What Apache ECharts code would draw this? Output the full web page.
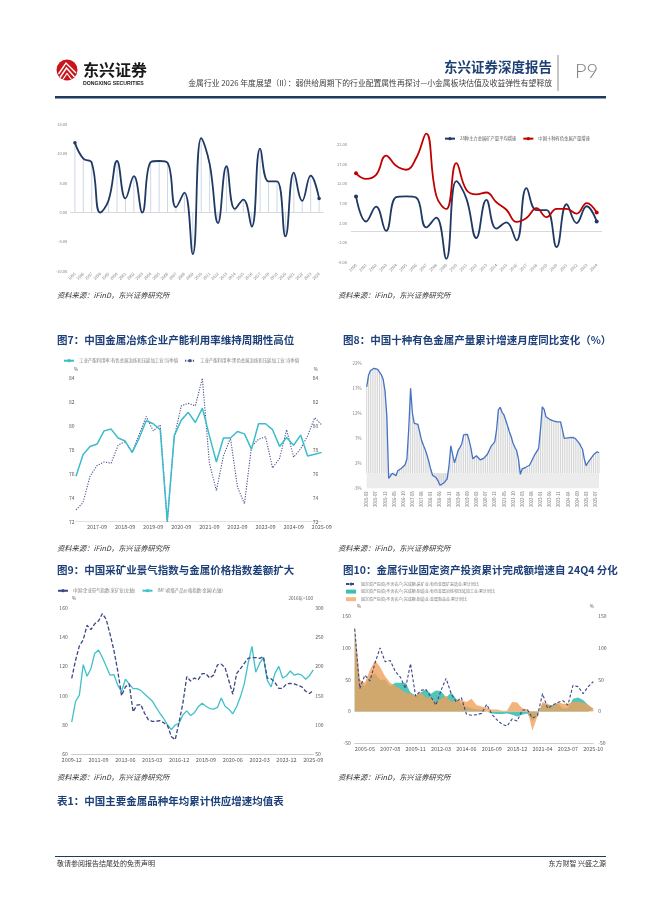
<!DOCTYPE html>
<html><head><meta charset="utf-8">
<script src="https://cdn.jsdelivr.net/npm/echarts/dist/echarts.min.js"></script>
<style>html,body{margin:0;padding:0;background:#fff;}#c{width:662px;height:898px;}</style>
</head><body><div id="c"></div>
<script>
// ---------- DATA ----------
const yearsA = ['1995','1996','1997','1998','1999','2000','2001','2002','2003','2004','2005','2006','2007','2008','2009','2010','2011','2012','2013','2014','2015','2016','2017','2018','2019','2020','2021','2022','2023','2024'];
const mineGrowth = [11.9,9.2,8.5,0.0,2.1,8.8,2.4,6.2,0.0,8.6,8.8,8.5,0.9,3.4,-7.1,12.7,8.3,-1.8,7.9,0.6,2.2,-2.4,10.9,5.3,5.3,-4.1,6.8,2.0,6.3,2.4];
const yearsB = yearsA.slice(5);
const mineGrowthB = mineGrowth.slice(5);
const chinaTenGrowth = [14.7,13.3,14.3,19.2,16.6,15.6,18.6,24.8,9.0,5.6,17.3,10.5,9.3,9.8,7.3,5.4,2.3,3.3,5.8,3.5,5.6,5.6,4.4,7.1,4.7];

const nonferrousUtil = [75.8,77.6,78.3,78.5,79.6,79.75,79.0,78.75,77.8,79.0,80.45,80.2,79.7,72.0,79.2,80.5,81.15,80.3,81.5,79.2,77.0,79.0,79.0,79.55,79.35,78.05,80.2,80.2,79.7,78.3,79.05,78.4,79.25,77.5,77.65,77.8];
const ferrousUtil = [73.0,73.6,75.8,76.7,77.0,76.9,78.4,78.7,77.8,79.3,80.8,79.6,80.1,72.0,79.1,81.7,81.9,81.7,84.0,76.9,74.6,77.5,79.0,74.9,73.5,78.3,78.9,79.1,76.5,77.3,79.7,77.4,78.1,79.2,80.7,80.1];

const tenMetalsCum = [17.3,19.6,20.5,20.8,21.0,21.0,20.8,20.4,19.7,18.8,
 16.5,11.5,-1.0,-0.8,0.0,0.3,-0.5,0.5,0.7,1.0,
 1.3,1.7,2.9,9.0,17.0,12.0,10.0,9.7,9.8,8.2,
 6.6,5.6,4.7,3.6,2.3,0.8,-0.4,-0.7,-0.9,-1.5,
 -2.4,-2.6,-2.0,-1.7,-1.1,1.5,5.5,3.7,2.1,3.3,
 4.6,5.2,5.9,7.7,8.1,7.8,6.6,5.0,2.9,3.3,
 3.5,3.2,2.7,3.1,3.0,3.4,3.8,4.6,5.4,5.7,
 6.3,8.7,12.7,13.2,12.2,11.7,10.6,9.5,8.3,7.3,
 6.0,5.2,4.5,2.8,-0.2,0.9,1.3,1.2,1.0,1.6,
 2.3,3.1,3.8,4.4,5.0,8.7,13.3,12.8,11.3,11.0,
 10.8,10.6,10.5,10.5,10.3,10.1,10.3,8.7,7.0,6.8,
 7.1,7.0,7.2,7.5,7.0,6.6,6.1,6.0,4.8,2.8,
 1.5,2.2,2.7,3.2,3.7,4.1,4.3,4.1];

const miningProsperity = [111.8,124,134,138,148,145,149,151,156,152,
 142,131,117,100,106,108,89,93.5,94,88,
 83.5,82.5,82.5,83,81.5,79.5,72,70,82,95,
 113,110,112,111,115,115,112,114,121,121.5,
 119,110,101,115,118.5,122,125.5,126,126,125.5,
 126.5,112,111.5,109,105,105,108,108.4,108,107,
 106,103,101.5,103.5];
const metalPriceIdx = [105,140,151,203,183,196,222,228,215,200,
 185,186,168,157,178,170,162,162,159,153,
 147,141,130,120,111,100,92,100,103,117,
 124,116,121,131,137,132,128,127,130,146,
 132,127,119,131,148,170,205,234,190,205,
 215,176,165,188,200,180,184,192,185,187,
 185,178,184,194];

const catsF = ['2004-06','2004-11','2005-05','2005-10','2006-04','2006-09','2007-03','2007-08','2008-02','2008-07','2008-12','2009-06','2009-11','2010-05','2010-10','2011-04','2011-09','2012-03','2012-08','2013-02','2013-07','2013-12','2014-06','2014-11','2015-05','2015-10','2016-04','2016-09','2017-03','2017-08','2018-02','2018-07','2018-12','2019-06','2019-11','2020-05','2020-10','2021-04','2021-09','2022-03','2022-08','2023-02','2023-07','2023-12','2024-06','2024-11','2025-05','2025-10'];
const labelsF = ['2005-05','2007-08','2009-11','2012-03','2014-06','2016-09','2018-12','2021-04','2023-07','2025-10'];
const faiMining = [130,36,57,48,76,100,78,80,63,54,36,75,24,33,35,23,10,33,52,28,15,22,-4,-6,-5,-3,11,-4,-13,-20,-23,-12,-15,2,3,-10,-7,28,5,10,14,17,10,41,39,28,39,47];
const faiSmelting = [120,45,40,55,60,50,50,40,45,45,45,30,25,30,35,28,33,32,22,30,20,12,8,5,3,3,0,-3,-4,-4,-3,-5,-8,-5,-3,-15,-5,12,10,10,12,5,5,20,22,18,10,3];
const faiProducts = [135,50,45,65,80,70,55,45,40,35,30,28,25,30,22,22,15,20,25,15,18,18,15,20,10,8,6,3,3,1,1,15,14,5,3,-30,-8,15,12,8,15,12,12,15,15,14,10,5];

// period label helpers (category tick labels only)
function periodRange(y0, m0, y1, m1, step) {
  const out = []; let y = y0, m = m0;
  while (y < y1 || (y === y1 && m <= m1)) {
    out.push(y + '-' + String(m).padStart(2, '0'));
    m += step; if (m > 12) { m -= 12; y++; }
  }
  return out;
}
const quartersC = periodRange(2016, 12, 2025, 9, 3);
const monthsD = periodRange(2015, 2, 2025, 9, 1);
const quartersE = periodRange(2009, 12, 2025, 9, 3);

// names
const nB1 = '28种主力金属矿产量平均增速';
const nB2 = '中国十种有色金属产量增速';
const nC1 = '工业产能利用率:有色金属冶炼和压延加工业:当季值';
const nC2 = '工业产能利用率:黑色金属冶炼和压延加工业:当季值';
const nE1 = '中国:企业景气指数:采矿业(左轴)';
const nE2 = 'IMF:初级产品价格指数:金属(右轴)';
const nF1 = '固定资产投资(不含农户)完成额:采矿业:有色金属矿采选业:累计同比';
const nF2 = '固定资产投资(不含农户)完成额:制造业:有色金属冶炼和压延加工业:累计同比';
const nF3 = '固定资产投资(不含农户)完成额:制造业:金属制品业:累计同比';

// ---------- CHART ----------
const F = "'Noto Sans CJK SC','Noto Sans',sans-serif";
const LBL = '#595959';
const chart = echarts.init(document.getElementById('c'), null, {renderer: 'canvas'});

function endDots(arr, size) {
  return arr.map((v, i) => ({value: v, symbolSize: (i === 0 || i === arr.length - 1) ? size : 0}));
}
function T(x, y, text, o) {
  return {type: 'text', x: x, y: y, z: 10, style: Object.assign({text: text, fill: '#333', fontSize: 7, fontFamily: F, align: 'left', verticalAlign: 'middle'}, o || {})};
}
const noLine = {show: false}, noTick = {show: false}, noSplit = {show: false};
const gridBase = {containLabel: false, outerBoundsMode: 'none'};

const graphic = [
  // header
  {type: 'circle', shape: {cx: 67, cy: 70, r: 10.5}, style: {fill: '#c8161d'}},
  {type: 'polyline', shape: {points: [[58.5, 74], [66, 63], [76, 73]]}, style: {stroke: '#fff', lineWidth: 1.4, fill: null}},
  {type: 'polyline', shape: {points: [[60, 77.5], [66.5, 68], [74.5, 77]]}, style: {stroke: '#fff', lineWidth: 1.4, fill: null}},
  {type: 'polyline', shape: {points: [[62.5, 80], [67, 73.5], [71.5, 79.5]]}, style: {stroke: '#fff', lineWidth: 1.2, fill: null}},
  T(83, 70, '东兴证券', {fontSize: 16, fontWeight: 'bold', fill: '#1a1a1a'}),
  T(83, 83.5, 'DONGXING SECURITIES', {fontSize: 5.2, fontWeight: 'bold', fill: '#1a1a1a', fontFamily: "'Liberation Sans',sans-serif"}),
  T(552, 67, '东兴证券深度报告', {fontSize: 13.5, fontWeight: 'bold', fill: '#1d3f74', align: 'right'}),
  T(552, 83.5, '金属行业 2026 年度展望（II）：弱供给周期下的行业配置属性再探讨—小金属板块估值及收益弹性有望释放', {fontSize: 7.8, fill: '#404040', align: 'right'}),
  {type: 'line', shape: {x1: 558, y1: 55, x2: 558, y2: 91}, style: {stroke: '#8c8c8c', lineWidth: 1}},
  T(575, 72, 'P9', {fontSize: 20, fill: '#7f7f7f', fontFamily: "'Lato','Noto Sans',sans-serif", fontWeight: 300}),
  {type: 'rect', shape: {x: 55, y: 96, width: 551, height: 2.5}, style: {fill: '#1f3a5f'}},
  // sources
  T(57, 295, '资料来源：iFinD，东兴证券研究所', {fontSize: 7.3, fontStyle: 'italic'}),
  T(338, 295, '资料来源：iFinD，东兴证券研究所', {fontSize: 7.3, fontStyle: 'italic'}),
  T(57, 548, '资料来源：iFinD，东兴证券研究所', {fontSize: 7.3, fontStyle: 'italic'}),
  T(338, 548, '资料来源：iFinD，东兴证券研究所', {fontSize: 7.3, fontStyle: 'italic'}),
  T(57, 777, '资料来源：iFinD，东兴证券研究所', {fontSize: 7.3, fontStyle: 'italic'}),
  T(338, 777, '资料来源：iFinD，东兴证券研究所', {fontSize: 7.3, fontStyle: 'italic'}),
  // titles
  T(57, 340, '图7：中国金属冶炼企业产能利用率维持周期性高位', {fontSize: 10.5, fontWeight: 'bold', fill: '#1d4079'}),
  T(343, 340, '图8：中国十种有色金属产量累计增速月度同比变化（%）', {fontSize: 10.5, fontWeight: 'bold', fill: '#1d4079'}),
  T(57, 570, '图9：中国采矿业景气指数与金属价格指数差额扩大', {fontSize: 10.5, fontWeight: 'bold', fill: '#1d4079'}),
  T(343, 570, '图10：金属行业固定资产投资累计完成额增速自 24Q4 分化', {fontSize: 10.5, fontWeight: 'bold', fill: '#1d4079'}),
  T(57, 801, '表1：中国主要金属品种年均累计供应增速均值表', {fontSize: 10.5, fontWeight: 'bold', fill: '#1d4079'}),
  // unit marks
  T(74, 369, '%', {fontSize: 4.5, fill: LBL}),
  T(318, 369, '%', {fontSize: 4.5, fill: LBL, align: 'right'}),
  T(72, 598, '%', {fontSize: 4.5, fill: LBL}),
  T(313, 598, '2016年=100', {fontSize: 4.5, fill: LBL, align: 'right'}),
  T(357, 606.5, '%', {fontSize: 4.5, fill: LBL}),
  T(594, 606.5, '%', {fontSize: 4.5, fill: LBL, align: 'right'}),
  // footer
  {type: 'rect', shape: {x: 55, y: 856, width: 551, height: 1}, style: {fill: '#1f3a5f'}},
  T(57, 863, '敬请参阅报告结尾处的免责声明', {fontSize: 7, fill: '#333'}),
  T(606, 863, '东方财智 兴盛之源', {fontSize: 7, fill: '#333', align: 'right'})
];

const smallLbl = {fontSize: 4, color: '#7f7f7f', fontFamily: F};

const option = {
  animation: false,
  backgroundColor: '#fff',
  textStyle: {fontFamily: F},
  graphic: graphic,
  grid: [
    Object.assign({left: 70.7, top: 124.7, width: 252.6, height: 146.3}, gridBase),
    Object.assign({left: 351, top: 132.9, width: 250.7, height: 129.4}, gridBase),
    Object.assign({left: 76, top: 378.3, width: 245.7, height: 143.4}, gridBase),
    Object.assign({left: 366.7, top: 363.3, width: 232.3, height: 125}, gridBase),
    Object.assign({left: 71.7, top: 607.7, width: 241.6, height: 146.6}, gridBase),
    Object.assign({left: 354.7, top: 616, width: 238.6, height: 127.3}, gridBase)
  ],
  legend: [
    {data: [nB1, nB2], left: 444, top: 136.5, padding: 0, itemWidth: 10, itemHeight: 4, itemGap: 6,
     textStyle: {fontSize: 4.3, color: LBL, fontFamily: F}},
    {data: [nC1, nC2], left: 63, top: 358.5, padding: 0, itemWidth: 10, itemHeight: 4, itemGap: 6,
     textStyle: {fontSize: 4.4, color: '#7f7f7f', fontFamily: F}},
    {data: [nE1, nE2], left: 57, top: 588.5, padding: 0, itemWidth: 10, itemHeight: 4, itemGap: 6,
     textStyle: {fontSize: 4.4, color: '#7f7f7f', fontFamily: F}},
    {data: [nF1, {name: nF2, icon: 'rect'}, {name: nF3, icon: 'rect'}], orient: 'vertical', left: 345, top: 582, padding: 0,
     itemWidth: 10, itemHeight: 4, itemGap: 3.6, textStyle: {fontSize: 4, color: '#7f7f7f', fontFamily: F}}
  ],
  xAxis: [
    {gridIndex: 0, type: 'category', data: yearsA, boundaryGap: true,
     axisLine: {onZero: true, lineStyle: {color: '#bfbfbf', width: 0.6}}, axisTick: noTick, splitLine: noSplit,
     axisLabel: Object.assign({interval: 0, rotate: 45, margin: 2}, smallLbl)},
    {gridIndex: 1, type: 'category', data: yearsB, boundaryGap: true,
     axisLine: {onZero: true, lineStyle: {color: '#bfbfbf', width: 0.6}}, axisTick: noTick, splitLine: noSplit,
     axisLabel: Object.assign({interval: 0, rotate: 45, margin: 2}, smallLbl)},
    {gridIndex: 2, type: 'category', data: quartersC, boundaryGap: false,
     axisLine: {show: true, lineStyle: {color: '#d9d9d9', width: 0.8}}, axisTick: noTick, splitLine: noSplit,
     axisLabel: {interval: (i, v) => v.slice(5) === '09', fontSize: 5.5, color: LBL, margin: 2.5, fontFamily: F}},
    {gridIndex: 3, type: 'category', data: monthsD, boundaryGap: false,
     axisLine: noLine, axisTick: noTick, splitLine: noSplit,
     axisLabel: {interval: 4, rotate: 90, fontSize: 4.3, color: '#7f7f7f', margin: 3, fontFamily: F}},
    {gridIndex: 4, type: 'category', data: quartersE, boundaryGap: false,
     axisLine: {show: true, lineStyle: {color: '#bfbfbf', width: 0.8}}, axisTick: noTick, splitLine: noSplit,
     axisLabel: {interval: 6, fontSize: 5.5, color: LBL, margin: 2.5, fontFamily: F}},
    {gridIndex: 5, type: 'category', data: catsF, boundaryGap: false,
     axisLine: {onZero: false, show: true, lineStyle: {color: '#bfbfbf', width: 0.8}}, axisTick: noTick, splitLine: noSplit,
     axisLabel: {interval: (i, v) => labelsF.indexOf(v) >= 0, fontSize: 5.5, color: LBL, margin: 2.5, fontFamily: F}}
  ],
  yAxis: [
    {gridIndex: 0, type: 'value', min: -10, max: 15, interval: 5, axisLine: noLine, axisTick: noTick, splitLine: noSplit,
     axisLabel: Object.assign({margin: 3.5, formatter: v => v.toFixed(2)}, smallLbl)},
    {gridIndex: 1, type: 'value', min: -8, max: 25, interval: 5, axisLine: noLine, axisTick: noTick, splitLine: noSplit,
     axisLabel: Object.assign({margin: 4, showMaxLabel: false, formatter: v => v.toFixed(2)}, smallLbl)},
    {gridIndex: 2, type: 'value', min: 72, max: 84, interval: 2, axisLine: noLine, axisTick: noTick, splitLine: noSplit,
     axisLabel: {fontSize: 5, color: LBL, margin: 1.5, fontFamily: F}},
    {gridIndex: 2, type: 'value', position: 'right', min: 72, max: 84, interval: 2, axisLine: noLine, axisTick: noTick, splitLine: noSplit,
     axisLabel: {inside: true, fontSize: 5, color: LBL, margin: 3.5, fontFamily: F}},
    {gridIndex: 3, type: 'value', min: -3, max: 22, interval: 5, axisLine: noLine, axisTick: noTick, splitLine: noSplit,
     axisLabel: {fontSize: 4.5, color: '#7f7f7f', margin: 5, formatter: v => v + '%', fontFamily: F}},
    {gridIndex: 4, type: 'value', min: 60, max: 160, interval: 20, axisLine: noLine, axisTick: noTick, splitLine: noSplit,
     axisLabel: {fontSize: 5, color: LBL, margin: 4, fontFamily: F}},
    {gridIndex: 4, type: 'value', position: 'right', min: 50, max: 300, interval: 50, axisLine: noLine, axisTick: noTick, splitLine: noSplit,
     axisLabel: {fontSize: 5, color: LBL, margin: 2, fontFamily: F}},
    {gridIndex: 5, type: 'value', min: -50, max: 150, interval: 50, axisLine: noLine, axisTick: noTick, splitLine: noSplit,
     axisLabel: {fontSize: 5, color: LBL, margin: 4, fontFamily: F}},
    {gridIndex: 5, type: 'value', position: 'right', min: -50, max: 150, interval: 50, axisLine: noLine, axisTick: noTick, splitLine: noSplit,
     axisLabel: {fontSize: 5, color: LBL, margin: 5, fontFamily: F}}
  ],
  series: [
    // A
    {type: 'bar', xAxisIndex: 0, yAxisIndex: 0, data: mineGrowth, barWidth: 0.6, silent: true,
     itemStyle: {color: '#cdd8e6'}, z: 1},
    {type: 'line', name: '全球主要金属矿产量增速', xAxisIndex: 0, yAxisIndex: 0, data: endDots(mineGrowth, 3.5),
     smooth: 0.45, symbol: 'circle', lineStyle: {color: '#1f3864', width: 1.8}, itemStyle: {color: '#1f3864'}, z: 3},
    // B
    {type: 'line', name: nB1, xAxisIndex: 1, yAxisIndex: 1, data: endDots(mineGrowthB, 4),
     smooth: 0.45, symbol: 'circle', lineStyle: {color: '#1f3864', width: 1.8}, itemStyle: {color: '#1f3864'}, z: 3},
    {type: 'line', name: nB2, xAxisIndex: 1, yAxisIndex: 1, data: endDots(chinaTenGrowth, 4),
     smooth: 0.45, symbol: 'circle', lineStyle: {color: '#c00000', width: 1.8}, itemStyle: {color: '#c00000'}, z: 3},
    // C
    {type: 'line', name: nC1, xAxisIndex: 2, yAxisIndex: 2, data: nonferrousUtil, symbol: 'none',
     lineStyle: {color: '#3cbccb', width: 1.5}, itemStyle: {color: '#3cbccb'}, z: 3},
    {type: 'line', name: nC2, xAxisIndex: 2, yAxisIndex: 2, data: ferrousUtil, symbol: 'none',
     lineStyle: {color: '#454f8e', width: 1.1, type: [1.2, 1.4]}, itemStyle: {color: '#454f8e'}, z: 2},
    // D
    {type: 'bar', xAxisIndex: 3, yAxisIndex: 4, data: tenMetalsCum, barWidth: 0.7, silent: true,
     itemStyle: {color: '#d3d3d3'}, z: 1,
     markArea: {silent: true, itemStyle: {color: '#ececec'}, data: [[{yAxis: -3}, {yAxis: 0}]]}},
    {type: 'line', xAxisIndex: 3, yAxisIndex: 4, data: tenMetalsCum, symbol: 'none',
     lineStyle: {color: '#4472c4', width: 1.3}, z: 3},
    // E
    {type: 'line', name: nE1, xAxisIndex: 4, yAxisIndex: 5, data: miningProsperity, symbol: 'none',
     lineStyle: {color: '#3d4785', width: 1.3, type: [4, 2]}, itemStyle: {color: '#3d4785'}, z: 3},
    {type: 'line', name: nE2, xAxisIndex: 4, yAxisIndex: 6, data: metalPriceIdx, symbol: 'none',
     lineStyle: {color: '#3fc1c9', width: 1.3}, itemStyle: {color: '#3fc1c9'}, z: 2},
    // F
    {type: 'line', name: nF2, xAxisIndex: 5, yAxisIndex: 7, data: faiSmelting, symbol: 'none',
     lineStyle: {width: 0, opacity: 0}, itemStyle: {color: '#3fbfb0'}, areaStyle: {color: '#3fbfb0', opacity: 0.9}, z: 1},
    {type: 'line', name: nF3, xAxisIndex: 5, yAxisIndex: 7, data: faiProducts, symbol: 'none',
     lineStyle: {width: 0, opacity: 0}, itemStyle: {color: '#f4b883'}, areaStyle: {color: '#f0a05a', opacity: 0.8}, z: 2},
    {type: 'line', name: nF1, xAxisIndex: 5, yAxisIndex: 7, data: faiMining, symbol: 'none',
     lineStyle: {color: '#3d4785', width: 1.1, type: [3, 2]}, itemStyle: {color: '#3d4785'}, z: 3}
  ]
};
chart.setOption(option);
</script></body></html>
